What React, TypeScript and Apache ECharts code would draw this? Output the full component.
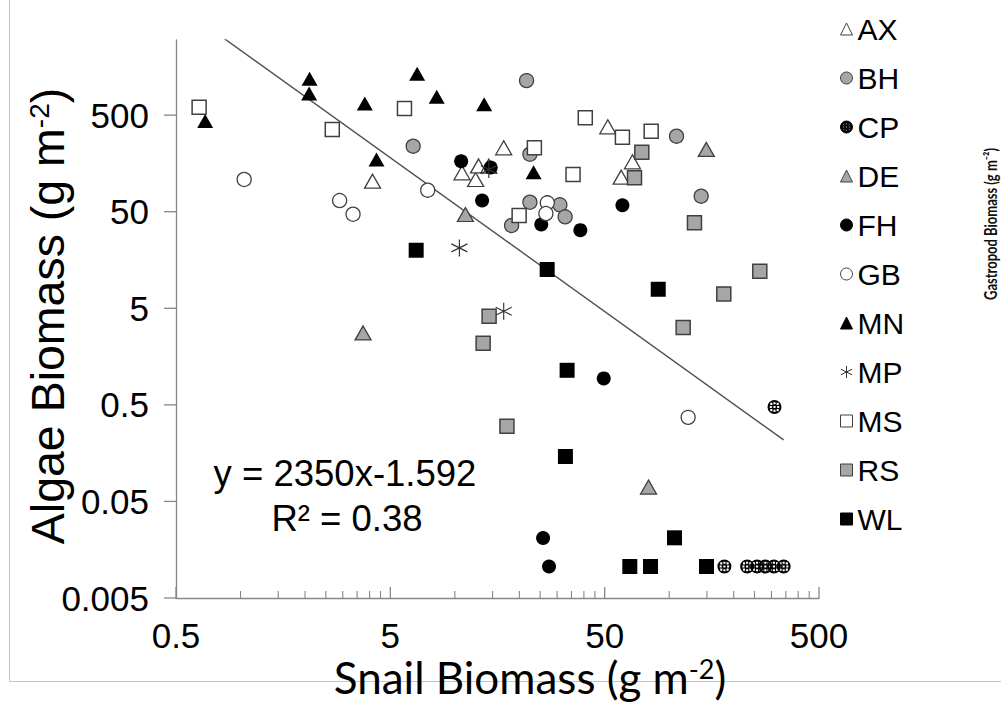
import React, { useEffect, useRef } from 'react';
import * as echarts from 'echarts';

// ---- axis ranges & ticks ----
const X_MIN = 0.5;
const X_MAX = 500;
const Y_MIN = 0.005;
const Y_MAX = 3000;
const xTickValues = [0.5, 5, 50, 500];
const xTickLabels = ['0.5', '5', '50', '500'];
const yTickValues = [0.005, 0.05, 0.5, 5, 50, 500];
const yTickLabels = ['0.005', '0.05', '0.5', '5', '50', '500'];
const minorDecadeBases = [0.5, 5, 50];
const minorMultipliers = [2, 3, 4, 5, 6, 7, 8, 9];

// ---- data (snail biomass x, algae biomass y) ----
const seriesNames = ['AX', 'BH', 'CP', 'DE', 'FH', 'GB', 'MN', 'MP', 'MS', 'RS', 'WL'];

const axX = [4.13, 10.8, 12.5, 12.9, 14.4, 16.9, 51.7, 59.7, 67.4];
const axY = [103.5, 126.5, 107.8, 148.8, 148, 229.6, 379, 113.9, 164.4];

const bhX = [21.6, 6.39, 22.4, 108.2, 141, 22.4, 30.9, 32.7, 18.4];
const bhY = [1139, 238.6, 197, 303, 72.4, 62.7, 59, 44.3, 36];

const cpX = [310, 181, 231, 257, 281, 308, 342];
const cpY = [0.475, 0.0106, 0.0106, 0.0106, 0.0106, 0.0106, 0.0106];

const deX = [11.2, 149, 3.73, 80.1];
const deY = [46.8, 220.6, 2.78, 0.0705];

const fhX = [10.7, 14.7, 13.4, 25.3, 38.5, 60.5, 49.5, 25.8, 27.5];
const fhY = [166.8, 143.6, 65.3, 36.9, 32.2, 58.4, 0.94, 0.0209, 0.0106];

const gbX = [1.04, 2.9, 3.35, 7.47, 27.0, 26.6, 122.6];
const gbY = [107.8, 65.3, 47.1, 83.5, 61.8, 47.9, 0.371];

const mnX = [0.684, 2.1, 2.09, 3.8, 4.31, 6.67, 8.23, 13.7, 23.3];
const mnY = [435, 1191, 839, 661, 173.8, 1343, 776, 650, 128.3];

const mpX = [14.4, 10.5, 16.9];
const mpY = [136.9, 21.1, 4.66];

const msX = [0.641, 2.68, 5.82, 23.5, 40.6, 35.6, 19.95, 60.5, 82.4];
const msY = [605, 355.5, 587, 229.6, 470, 121.5, 45.7, 295.9, 341];

const rsX = [74.5, 68.9, 131.2, 264.7, 179.8, 116.2, 14.45, 13.55, 17.5];
const rsY = [206.8, 112.3, 38.4, 12.09, 7.05, 3.155, 4.13, 2.17, 0.3];

const wlX = [6.6, 26.96, 88.9, 33.4, 32.8, 105.9, 65.5, 81.8, 149.3];
const wlY = [19.95, 12.6, 7.87, 1.14, 0.146, 0.021, 0.0106, 0.0106, 0.0106];

// power trend line y = 2350 x^-1.592, endpoints over the data's x range
const trendX = [0.641, 342];
const trendY = [4770, 0.217];

const equationText = 'y = 2350x-1.592';
const r2Text = 'R² = 0.38';

// ---- styling ----
const STROKE = '#404040';
const GRAY = '#a6a6a6';
const AXIS_COLOR = '#878787';
const ARIAL = 'Liberation Sans, Arial, sans-serif';

const CP_PATH =
  'path://M10,0A10,10,0,1,1,10,20A10,10,0,1,1,10,0Z' +
  'M4,4L4,7L7,7L7,4Z M8.5,3.2L8.5,6.2L11.5,6.2L11.5,3.2Z M13,4L13,7L16,7L16,4Z' +
  'M3.2,8.5L3.2,11.5L6.2,11.5L6.2,8.5Z M8.5,8.5L8.5,11.5L11.5,11.5L11.5,8.5Z M13.8,8.5L13.8,11.5L16.8,11.5L16.8,8.5Z' +
  'M4,13L4,16L7,16L7,13Z M8.5,13.8L8.5,16.8L11.5,16.8L11.5,13.8Z M13,13L13,16L16,16L16,13Z';
const STAR_PATH = 'path://M8,0L8,17M0,4.5L16,12.5M0,12.5L16,4.5';

const pts = (xs: number[], ys: number[]) => xs.map((x, i) => [x, ys[i]]);

const seriesDefs: Record<string, any> = {
  AX: { data: pts(axX, axY), symbol: 'triangle', symbolSize: [16, 14], itemStyle: { color: '#fff', borderColor: STROKE, borderWidth: 1.3 } },
  BH: { data: pts(bhX, bhY), symbol: 'circle', symbolSize: 14, itemStyle: { color: GRAY, borderColor: STROKE, borderWidth: 1.3 } },
  CP: { data: pts(cpX, cpY), symbol: CP_PATH, symbolSize: 14, itemStyle: { color: '#000', borderColor: '#000', borderWidth: 0 } },
  DE: { data: pts(deX, deY), symbol: 'triangle', symbolSize: [16, 14], itemStyle: { color: GRAY, borderColor: STROKE, borderWidth: 1.3 } },
  FH: { data: pts(fhX, fhY), symbol: 'circle', symbolSize: 14, itemStyle: { color: '#000', borderColor: '#000', borderWidth: 0 } },
  GB: { data: pts(gbX, gbY), symbol: 'circle', symbolSize: 14, itemStyle: { color: '#fff', borderColor: STROKE, borderWidth: 1.3 } },
  MN: { data: pts(mnX, mnY), symbol: 'triangle', symbolSize: [16, 14], itemStyle: { color: '#000', borderColor: '#000', borderWidth: 0 } },
  MP: { data: pts(mpX, mpY), symbol: STAR_PATH, symbolSize: [16, 17], itemStyle: { color: 'rgba(0,0,0,0)', borderColor: '#333', borderWidth: 1.2 } },
  MS: { data: pts(msX, msY), symbol: 'rect', symbolSize: 14, itemStyle: { color: '#fff', borderColor: STROKE, borderWidth: 1.5 } },
  RS: { data: pts(rsX, rsY), symbol: 'rect', symbolSize: 14, itemStyle: { color: GRAY, borderColor: STROKE, borderWidth: 1.5 } },
  WL: { data: pts(wlX, wlY), symbol: 'rect', symbolSize: 15, itemStyle: { color: '#000', borderColor: '#000', borderWidth: 0 } },
};

const minorTickValues: number[] = [];
minorDecadeBases.forEach((b) => minorMultipliers.forEach((m) => minorTickValues.push(b * m)));

function buildOption(): any {
  const scatterSeries = seriesNames.map((name) => {
    const def = seriesDefs[name];
    return {
      name,
      type: 'scatter',
      z: 3,
      data: def.data,
      symbol: def.symbol,
      symbolSize: def.symbolSize,
      itemStyle: { ...def.itemStyle, opacity: 1 },
      emphasis: { disabled: true },
    };
  });

  return {
    animation: false,
    backgroundColor: '#ffffff',
    grid: { left: 176, right: 182, top: 40, bottom: 106, containLabel: false },
    xAxis: {
      type: 'log',
      logBase: 10,
      min: X_MIN,
      max: X_MAX,
      axisLine: { show: true, onZero: false, lineStyle: { color: AXIS_COLOR, width: 1.3 } },
      axisTick: { show: false },
      axisLabel: { show: false },
      splitLine: { show: false },
    },
    yAxis: {
      type: 'log',
      logBase: 10,
      min: Y_MIN,
      max: Y_MAX,
      axisLine: { show: true, onZero: false, lineStyle: { color: AXIS_COLOR, width: 1.3 } },
      axisTick: { show: false },
      axisLabel: { show: false },
      splitLine: { show: false },
    },
    legend: {
      data: seriesNames,
      orient: 'vertical',
      left: 840,
      top: 14,
      padding: 0,
      itemWidth: 12,
      itemHeight: 12,
      itemGap: 19,
      itemStyle: { borderWidth: 1, opacity: 1 },
      textStyle: { fontSize: 30, fontFamily: ARIAL, color: '#000' },
      selectedMode: false,
    },
    series: [
      {
        name: 'trend',
        type: 'line',
        data: pts(trendX, trendY),
        symbol: 'none',
        z: 2,
        clip: true,
        lineStyle: { color: '#505050', width: 1.4 },
        silent: true,
      },
      ...scatterSeries,
      {
        name: 'yTicks',
        type: 'custom',
        silent: true,
        z: 4,
        data: yTickValues.map((v) => [X_MIN, v]),
        renderItem: (params: any, api: any) => {
          const p = api.coord([api.value(0), api.value(1)]);
          return {
            type: 'group',
            children: [
              { type: 'line', shape: { x1: p[0] - 12, y1: p[1], x2: p[0], y2: p[1] }, style: { stroke: AXIS_COLOR, lineWidth: 1.3 } },
              {
                type: 'text',
                x: p[0] - 27,
                y: p[1],
                style: { text: yTickLabels[params.dataIndex], fill: '#000', fontSize: 35, fontFamily: ARIAL, align: 'right', verticalAlign: 'middle' },
              },
            ],
          };
        },
      },
      {
        name: 'xTicks',
        type: 'custom',
        silent: true,
        z: 4,
        data: xTickValues.map((v) => [v, Y_MIN]),
        renderItem: (params: any, api: any) => {
          const p = api.coord([api.value(0), api.value(1)]);
          return {
            type: 'group',
            children: [
              { type: 'line', shape: { x1: p[0], y1: p[1] - 11, x2: p[0], y2: p[1] }, style: { stroke: AXIS_COLOR, lineWidth: 1.3 } },
              {
                type: 'text',
                x: p[0],
                y: p[1] + 37,
                style: { text: xTickLabels[params.dataIndex], fill: '#000', fontSize: 35, fontFamily: ARIAL, align: 'center', verticalAlign: 'middle', lineHeight: 32 },
              },
            ],
          };
        },
      },
      {
        name: 'xMinorTicks',
        type: 'custom',
        silent: true,
        z: 4,
        data: minorTickValues.map((v) => [v, Y_MIN]),
        renderItem: (params: any, api: any) => {
          const p = api.coord([api.value(0), api.value(1)]);
          return { type: 'line', shape: { x1: p[0], y1: p[1] - 7, x2: p[0], y2: p[1] }, style: { stroke: AXIS_COLOR, lineWidth: 1.1 } };
        },
      },
    ],
    graphic: [
      { type: 'line', silent: true, shape: { x1: 9.5, y1: 0, x2: 9.5, y2: 681.5 }, style: { stroke: '#c4c4c4', lineWidth: 1 } },
      { type: 'line', silent: true, shape: { x1: 9.5, y1: 681.5, x2: 1001, y2: 681.5 }, style: { stroke: '#c4c4c4', lineWidth: 1 } },
      {
        type: 'text',
        silent: true,
        x: 345,
        y: 473,
        style: { text: equationText, fill: '#000', fontSize: 36.5, fontFamily: ARIAL, align: 'center', verticalAlign: 'middle' },
      },
      {
        type: 'text',
        silent: true,
        x: 347,
        y: 518,
        style: { text: r2Text, fill: '#000', fontSize: 36.5, fontFamily: ARIAL, align: 'center', verticalAlign: 'middle' },
      },
      {
        type: 'text',
        silent: true,
        x: 48,
        y: 316,
        rotation: Math.PI / 2,
        style: {
          text: 'Algae Biomass (g m{s|-2})',
          rich: { s: { fontSize: 28, fontFamily: ARIAL, fill: '#000', verticalAlign: 'top', lineHeight: 46 } },
          fill: '#000',
          fontSize: 46.5,
          lineHeight: 46,
          fontFamily: ARIAL,
          align: 'center',
          verticalAlign: 'middle',
        },
      },
      {
        type: 'text',
        silent: true,
        x: 530,
        y: 677,
        style: {
          text: 'Snail Biomass (g m{s|-2})',
          rich: { s: { fontSize: 27, fontFamily: 'Lato', fill: '#000', verticalAlign: 'top', lineHeight: 44 } },
          fill: '#000',
          fontSize: 44,
          lineHeight: 44,
          fontFamily: 'Lato',
          align: 'center',
          verticalAlign: 'middle',
        },
      },
      {
        type: 'text',
        silent: true,
        x: 982,
        y: 224,
        rotation: Math.PI / 2,
        scaleX: 0.765,
        style: {
          text: 'Gastropod Biomass (g m⁻²)',
          fill: '#111',
          fontSize: 17,
          fontWeight: 'bold',
          fontFamily: 'Lato',
          align: 'center',
          verticalAlign: 'top',
        },
      },
    ],
  };
}

export default function App() {
  const ref = useRef<HTMLDivElement>(null);
  useEffect(() => {
    if (!ref.current) return;
    const chart = echarts.init(ref.current, null, { renderer: 'svg' });
    chart.setOption(buildOption());
    return () => chart.dispose();
  }, []);
  return (
    <div
      ref={ref}
      style={{ position: 'fixed', left: 0, top: 0, width: 1001, height: 704, background: '#fff' }}
    />
  );
}
